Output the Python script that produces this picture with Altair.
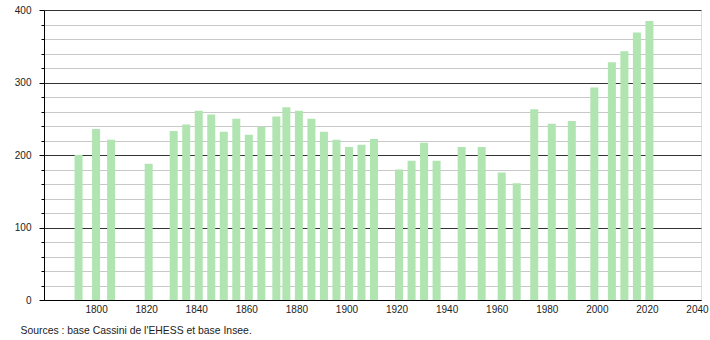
import altair as alt
import pandas as pd

years = [1793, 1800, 1806, 1821, 1831, 1836, 1841, 1846, 1851, 1856, 1861, 1866,
         1872, 1876, 1881, 1886, 1891, 1896, 1901, 1906, 1911, 1921, 1926, 1931,
         1936, 1946, 1954, 1962, 1968, 1975, 1982, 1990, 1999, 2006, 2011, 2016, 2021]
population = [200, 236, 221, 188, 233, 242, 261, 256, 232, 250, 228, 239,
              253, 266, 261, 250, 232, 221, 211, 214, 222, 180, 192, 217,
              192, 211, 211, 176, 161, 263, 243, 247, 293, 328, 343, 369, 385]

x_ticks = [1800, 1820, 1840, 1860, 1880, 1900, 1920, 1940, 1960, 1980, 2000, 2020, 2040]
y_major = [0, 100, 200, 300, 400]
y_minor = [v for v in range(0, 401, 20) if v % 100 != 0]
source_text = "Sources : base Cassini de l'EHESS et base Insee."

df = pd.DataFrame({"year": years, "pop": population})

FONT = "Liberation Sans"
xscale = alt.Scale(domain=[1779.2, 2041.6], nice=False, zero=False, padding=0)
yscale = alt.Scale(domain=[0, 400], nice=False, padding=0)

base = alt.Chart(df)

minor = base.mark_point(opacity=0).encode(
    x=alt.X("year:Q", scale=xscale, axis=None),
    y=alt.Y("pop:Q", scale=yscale, axis=alt.Axis(
        orient="left", values=y_minor, grid=True, gridColor="#c8c8c8",
        gridWidth=1, labels=False, tickSize=3, tickColor="#000",
        domain=False, title=None)),
)

bars = base.mark_bar(size=8, color="#b0e4b0").encode(
    x=alt.X("year:Q", scale=xscale, axis=alt.Axis(
        values=x_ticks, format="d", ticks=False, grid=False,
        domainColor="#000", labelFont=FONT, labelFontSize=10,
        labelColor="#222", labelPadding=4, labelFlush=False,
        title=source_text, titleFont=FONT, titleFontSize=10.4,
        titleFontWeight="normal", titleColor="#222", titleX=-24, titleY=30,
        titleAlign="left", titleAnchor="start", titleBaseline="middle")),
    y=alt.Y("pop:Q", scale=yscale, axis=alt.Axis(
        orient="left", values=y_major, grid=True, gridColor="#333",
        gridWidth=1, tickSize=5, tickColor="#000", domainColor="#000",
        labelFont=FONT, labelFontSize=10, labelColor="#222",
        labelPadding=8, title=None)),
)

chart = alt.layer(minor, bars).resolve_axis(
    x="independent", y="independent"
).properties(
    width=657, height=290,
    autosize=alt.AutoSizeParams(type="none"),
    padding={"left": 44, "top": 10, "right": 9, "bottom": 40},
).configure_view(stroke=None).configure(background="white")

chart.save("out.html", embed_options={"renderer": "svg", "actions": False})
